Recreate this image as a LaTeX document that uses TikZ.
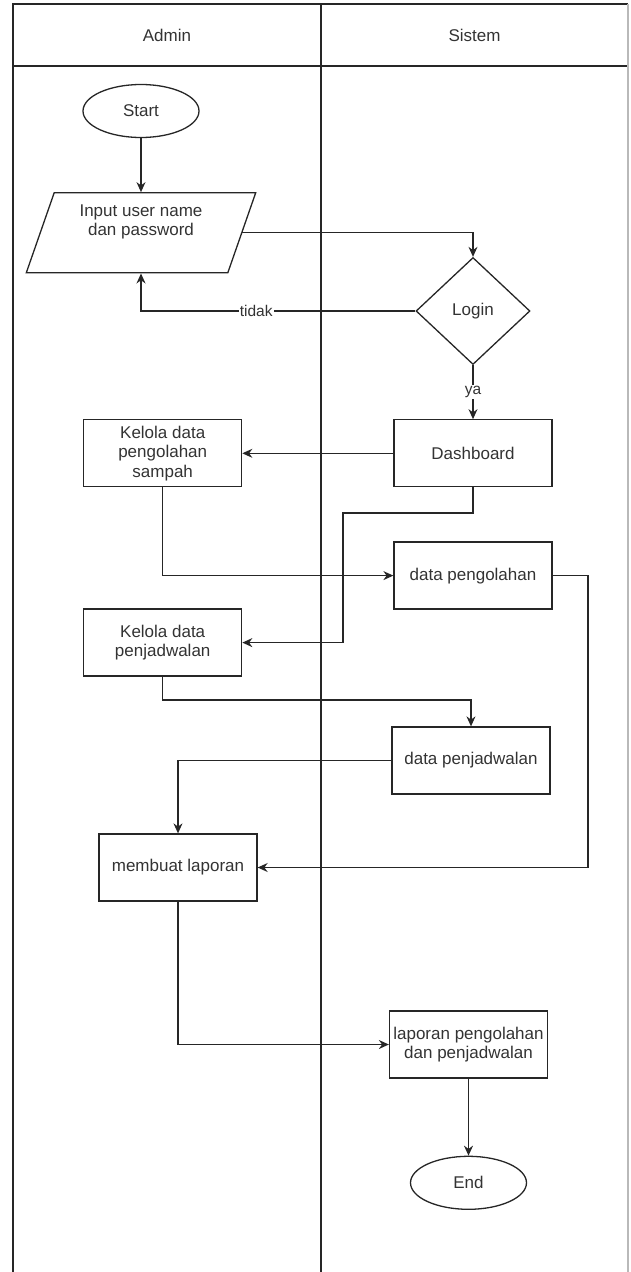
\documentclass[tikz,border=0pt]{standalone}
\usepackage{fontspec}
\setmainfont{Liberation Sans}
\usetikzlibrary{shapes.geometric, positioning, arrows.meta, calc}
\definecolor{garis}{HTML}{262626}
\definecolor{teks}{HTML}{333333}
\tikzset{
  tulisan/.style={
    text=teks,
    align=center,
    font=\fontsize{17}{19.5}\selectfont
  },
  proses/.style={
    tulisan,
    rectangle,
    draw=garis, line width=1.3pt,
    minimum width=158pt,
    minimum height=67pt,
    inner sep=2pt
  },
  terminal/.style={
    tulisan,
    ellipse,
    draw=garis, line width=1.3pt,
    minimum width=116pt,
    minimum height=53pt,
    inner sep=0pt
  },
  keputusan/.style={
    tulisan,
    diamond,
    draw=garis, line width=1.3pt,
    minimum width=114pt,
    minimum height=107pt,
    inner sep=0pt
  },
  masukan/.style={
    tulisan,
    trapezium,
    trapezium left angle=71.4,
    trapezium right angle=108.6,
    trapezium stretches=true,
    draw=garis, line width=1.3pt,
    minimum width=230pt,
    minimum height=80pt,
    inner sep=2pt
  },
  judul/.style={
    tulisan
  },
  lajur/.style={
    draw=garis,
    line width=1.3pt
  },
  ket/.style={
    text=teks,
    fill=white,
    inner sep=1pt,
    font=\fontsize{15.5}{17}\selectfont
  },
  arrow/.style={
    draw=garis,
    line width=1.3pt,
    -{Stealth[length=10pt, width=9pt]}
  }
}

\begin{document}
\begin{tikzpicture}[x=1pt, y=-1pt]
\useasboundingbox (0,0) rectangle (630,1272);
% Flowmap login admin
% lajur: Admin | Sistem

% lanes
\draw[lajur] (13,1272) -- (13,4) -- (628,4);
\draw[lajur] (13,66) -- (628,66);
\draw[lajur] (321,4) -- (321,1272);
\draw[lajur, draw=gray!55] (628,4) -- (628,1272);
\node[judul] (admin) at (167,35) {Admin};
\node[judul] (sistem) at (474.5,35) {Sistem};

% nodes
\node[terminal] (start) at (141,111) {Start};

\node[masukan, below = 54pt of start] (input)
{Input user name\\dan password\\\strut};

\node[keputusan] (login) at (473,311) {Login};

\node[proses, below = 54pt of login] (dashboard) {Dashboard};

\node[proses, left = 151pt of dashboard] (kelola1)
{Kelola data\\pengolahan\\sampah};

\node[proses, below = 54pt of dashboard] (datapengolahan) {data pengolahan};

\node[proses, below = 121pt of kelola1] (kelola2)
{Kelola data\\penjadwalan};

\node[proses] (datapenjadwalan) at (471,760.5) {data penjadwalan};

\node[proses] (laporan) at (178,867.5) {membuat laporan};

\node[proses] (laporanpj) at (468.5,1044.5)
{laporan pengolahan\\dan penjadwalan};

\node[terminal, below = 77pt of laporanpj] (end) {End};

% edges

%% login
\draw [arrow] (start.south) -- (input.north);
\draw [arrow] (input.east) -| (login.north);
\draw [arrow] (login.west) -| node[ket, pos=0.29]{tidak} (input.south);
\draw [arrow] (login.south) -- node[ket]{ya} (dashboard.north);

%% dashboard
\coordinate (b1) at (343,513);
\draw [arrow] (dashboard.west) -- (kelola1.east);
\draw [arrow] (dashboard.south) |- (b1) |- (kelola2.east);

%% kelola
\coordinate (b2) at (321,700);
\draw [arrow] (kelola1.south) |- (datapengolahan.west);
\draw [arrow] (kelola2.south) |- (b2) -| (datapenjadwalan.north);

%% laporan
\coordinate (b3) at (588,700);
\draw [arrow] (datapenjadwalan.west) -| (laporan.north);
\draw [arrow] (datapengolahan.east) -| (b3) |- (laporan.east);
\draw [arrow] (laporan.south) |- (laporanpj.west);
\draw [arrow] (laporanpj.south) -- (end.north);

\end{tikzpicture}
\end{document}
